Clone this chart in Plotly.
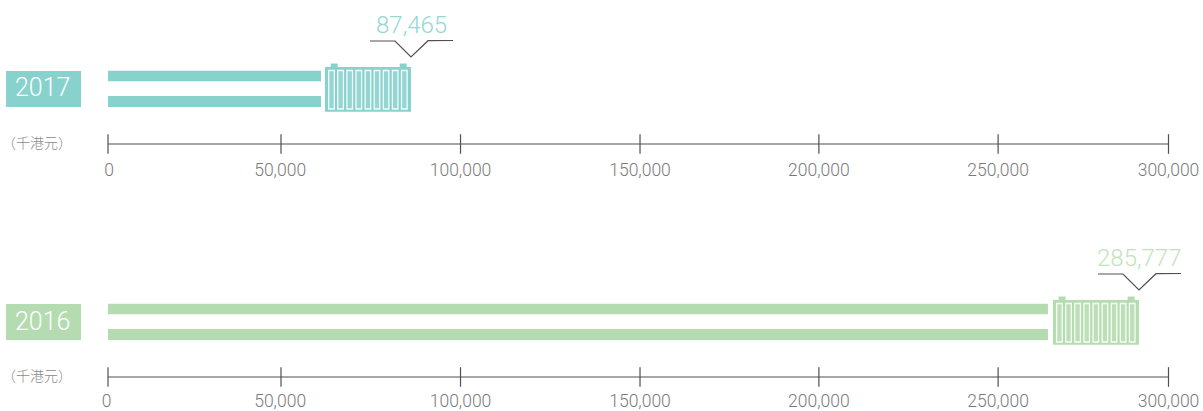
import plotly.graph_objects as go

# --- data (axis units) ---
years = ["2017", "2016"]
value_labels = ["87,465", "285,777"]
bar_ends = [60260, 265900]
box_starts = [61390, 267300]
box_ends = [85720, 291650]
tick_labels = ["0", "50,000", "100,000", "150,000", "200,000", "250,000", "300,000"]
tick_marks = [0, 48940, 99720, 150500, 201100, 251800, 300000]
label_pos_2017 = [300, 48700, 99720, 150500, 201100, 251800, 300000]
label_pos_2016 = [-400, 48700, 99720, 150500, 201100, 251800, 300000]
unit_label = "（千港元）"

# --- style ---
W, H = 1203, 411
X0, X1 = 108, 1168.5
PANEL_H = 152
OFFSET = 233
COLORS = ["#88D2CE", "#B5DCB0"]
VALUE_COLORS = ["#93D8D4", "#BFE4BA"]
LINE = "#505050"
TEXT = "#7A7A7A"
FONT = "Roboto"
K = 300000 / (X1 - X0)  # axis units per pixel
TICK_GAP = [2, 0]

fig = go.Figure()
shapes, annotations = [], []
label_sets = [label_pos_2017, label_pos_2016]

for i, year in enumerate(years):
    suffix = "" if i == 0 else str(i + 1)
    xa, ya = "x" + suffix, "y" + suffix
    c = COLORS[i]
    off = OFFSET * i
    # bars
    for y_c, th in [(76, 10.5), (101.5, 11)]:
        fig.add_trace(go.Bar(x=[bar_ends[i]], y=[y_c], width=[th], orientation="h",
                             marker=dict(color=c, line=dict(width=0)), xaxis=xa, yaxis=ya,
                             showlegend=False, hoverinfo="skip"))
    # container
    s, e = box_starts[i], box_ends[i]
    def rect(x0, x1, y0, y1, **kw):
        shapes.append(dict(type="rect", xref=xa, yref=ya, x0=x0, x1=x1, y0=y0, y1=y1,
                           layer="above", **kw))
    rect(s, e, 67, 111.7, fillcolor=c, line=dict(width=0))
    rect(s + 5.7 * K, s + 12.7 * K, 63.5, 68, fillcolor=c, line=dict(width=0))
    rect(s + 74.7 * K, s + 81.7 * K, 63.5, 68, fillcolor=c, line=dict(width=0))
    for n in range(9):
        left = s + (3.7 + n * 9.1) * K
        rect(left, left + 5.6 * K, 70.5, 109, fillcolor="rgba(255,255,255,0.1)",
             line=dict(color="rgba(255,255,255,0.9)", width=1.3))
    # callout
    fig.add_trace(go.Scatter(x=[e - 41 * K, e - 16 * K, e, e + 17 * K, e + 42 * K],
                             y=[41, 41, 57, 40.7, 40.5], mode="lines",
                             line=dict(color=LINE, width=1.2), xaxis=xa, yaxis=ya,
                             showlegend=False, hoverinfo="skip"))
    annotations.append(dict(text=value_labels[i], xref=xa, yref=ya, x=e, y=24.5,
                            showarrow=False,
                            font=dict(family=FONT, size=24, weight=300, color=VALUE_COLORS[i])))
    # axis line and ticks
    fig.add_trace(go.Scatter(x=tick_marks, y=[144] * len(tick_marks), mode="lines+markers",
                             line=dict(color=LINE, width=1.2),
                             marker=dict(symbol="line-ns-open", size=14,
                                         line=dict(color=LINE, width=1.2), color=LINE),
                             xaxis=xa, yaxis=ya, showlegend=False, hoverinfo="skip", cliponaxis=False))
    # year tag
    shapes.append(dict(type="rect", xref="paper", yref="paper",
                       x0=6 / W, x1=81 / W, y0=1 - (107 + off) / H, y1=1 - (71 + off) / H,
                       fillcolor=c, line=dict(width=0), layer="above"))
    annotations.append(dict(text=year, xref="paper", yref="paper", x=42.5 / W, y=1 - (88 + off) / H,
                            showarrow=False, xanchor="center", yanchor="middle",
                            font=dict(family=FONT, size=25, weight=300, color="#FFFFFF")))
    annotations.append(dict(text=unit_label, xref="paper", yref="paper", x=0, y=1 - (141.5 + off) / H,
                            showarrow=False, xanchor="left", yanchor="middle",
                            font=dict(family="Noto Sans CJK TC", size=14, weight=300, color="#8A8A8A")))

    ax = dict(domain=[0, 1], range=[-X0 * K, (W - X0) * K], tickmode="array",
              tickvals=label_sets[i], ticktext=tick_labels, ticks="outside", ticklen=TICK_GAP[i],
              tickcolor="rgba(0,0,0,0)", showgrid=False, zeroline=False, showline=False,
              tickfont=dict(family=FONT, size=17.5, weight=300, color=TEXT), anchor="y" + suffix, automargin=False)
    ay = dict(domain=[1 - (off + PANEL_H) / H, 1 - off / H], range=[PANEL_H, 0], visible=False,
              anchor="x" + suffix)
    fig.update_layout({"xaxis" + suffix: ax, "yaxis" + suffix: ay})

fig.update_layout(width=W, height=H, margin=dict(l=0, r=0, t=0, b=0), barmode="overlay",
                  plot_bgcolor="rgba(0,0,0,0)", paper_bgcolor="white", shapes=shapes,
                  annotations=annotations, showlegend=False)
fig.write_html("out.html", config=dict(displayModeBar=False),
               post_script="document.body.style.margin='0';")
